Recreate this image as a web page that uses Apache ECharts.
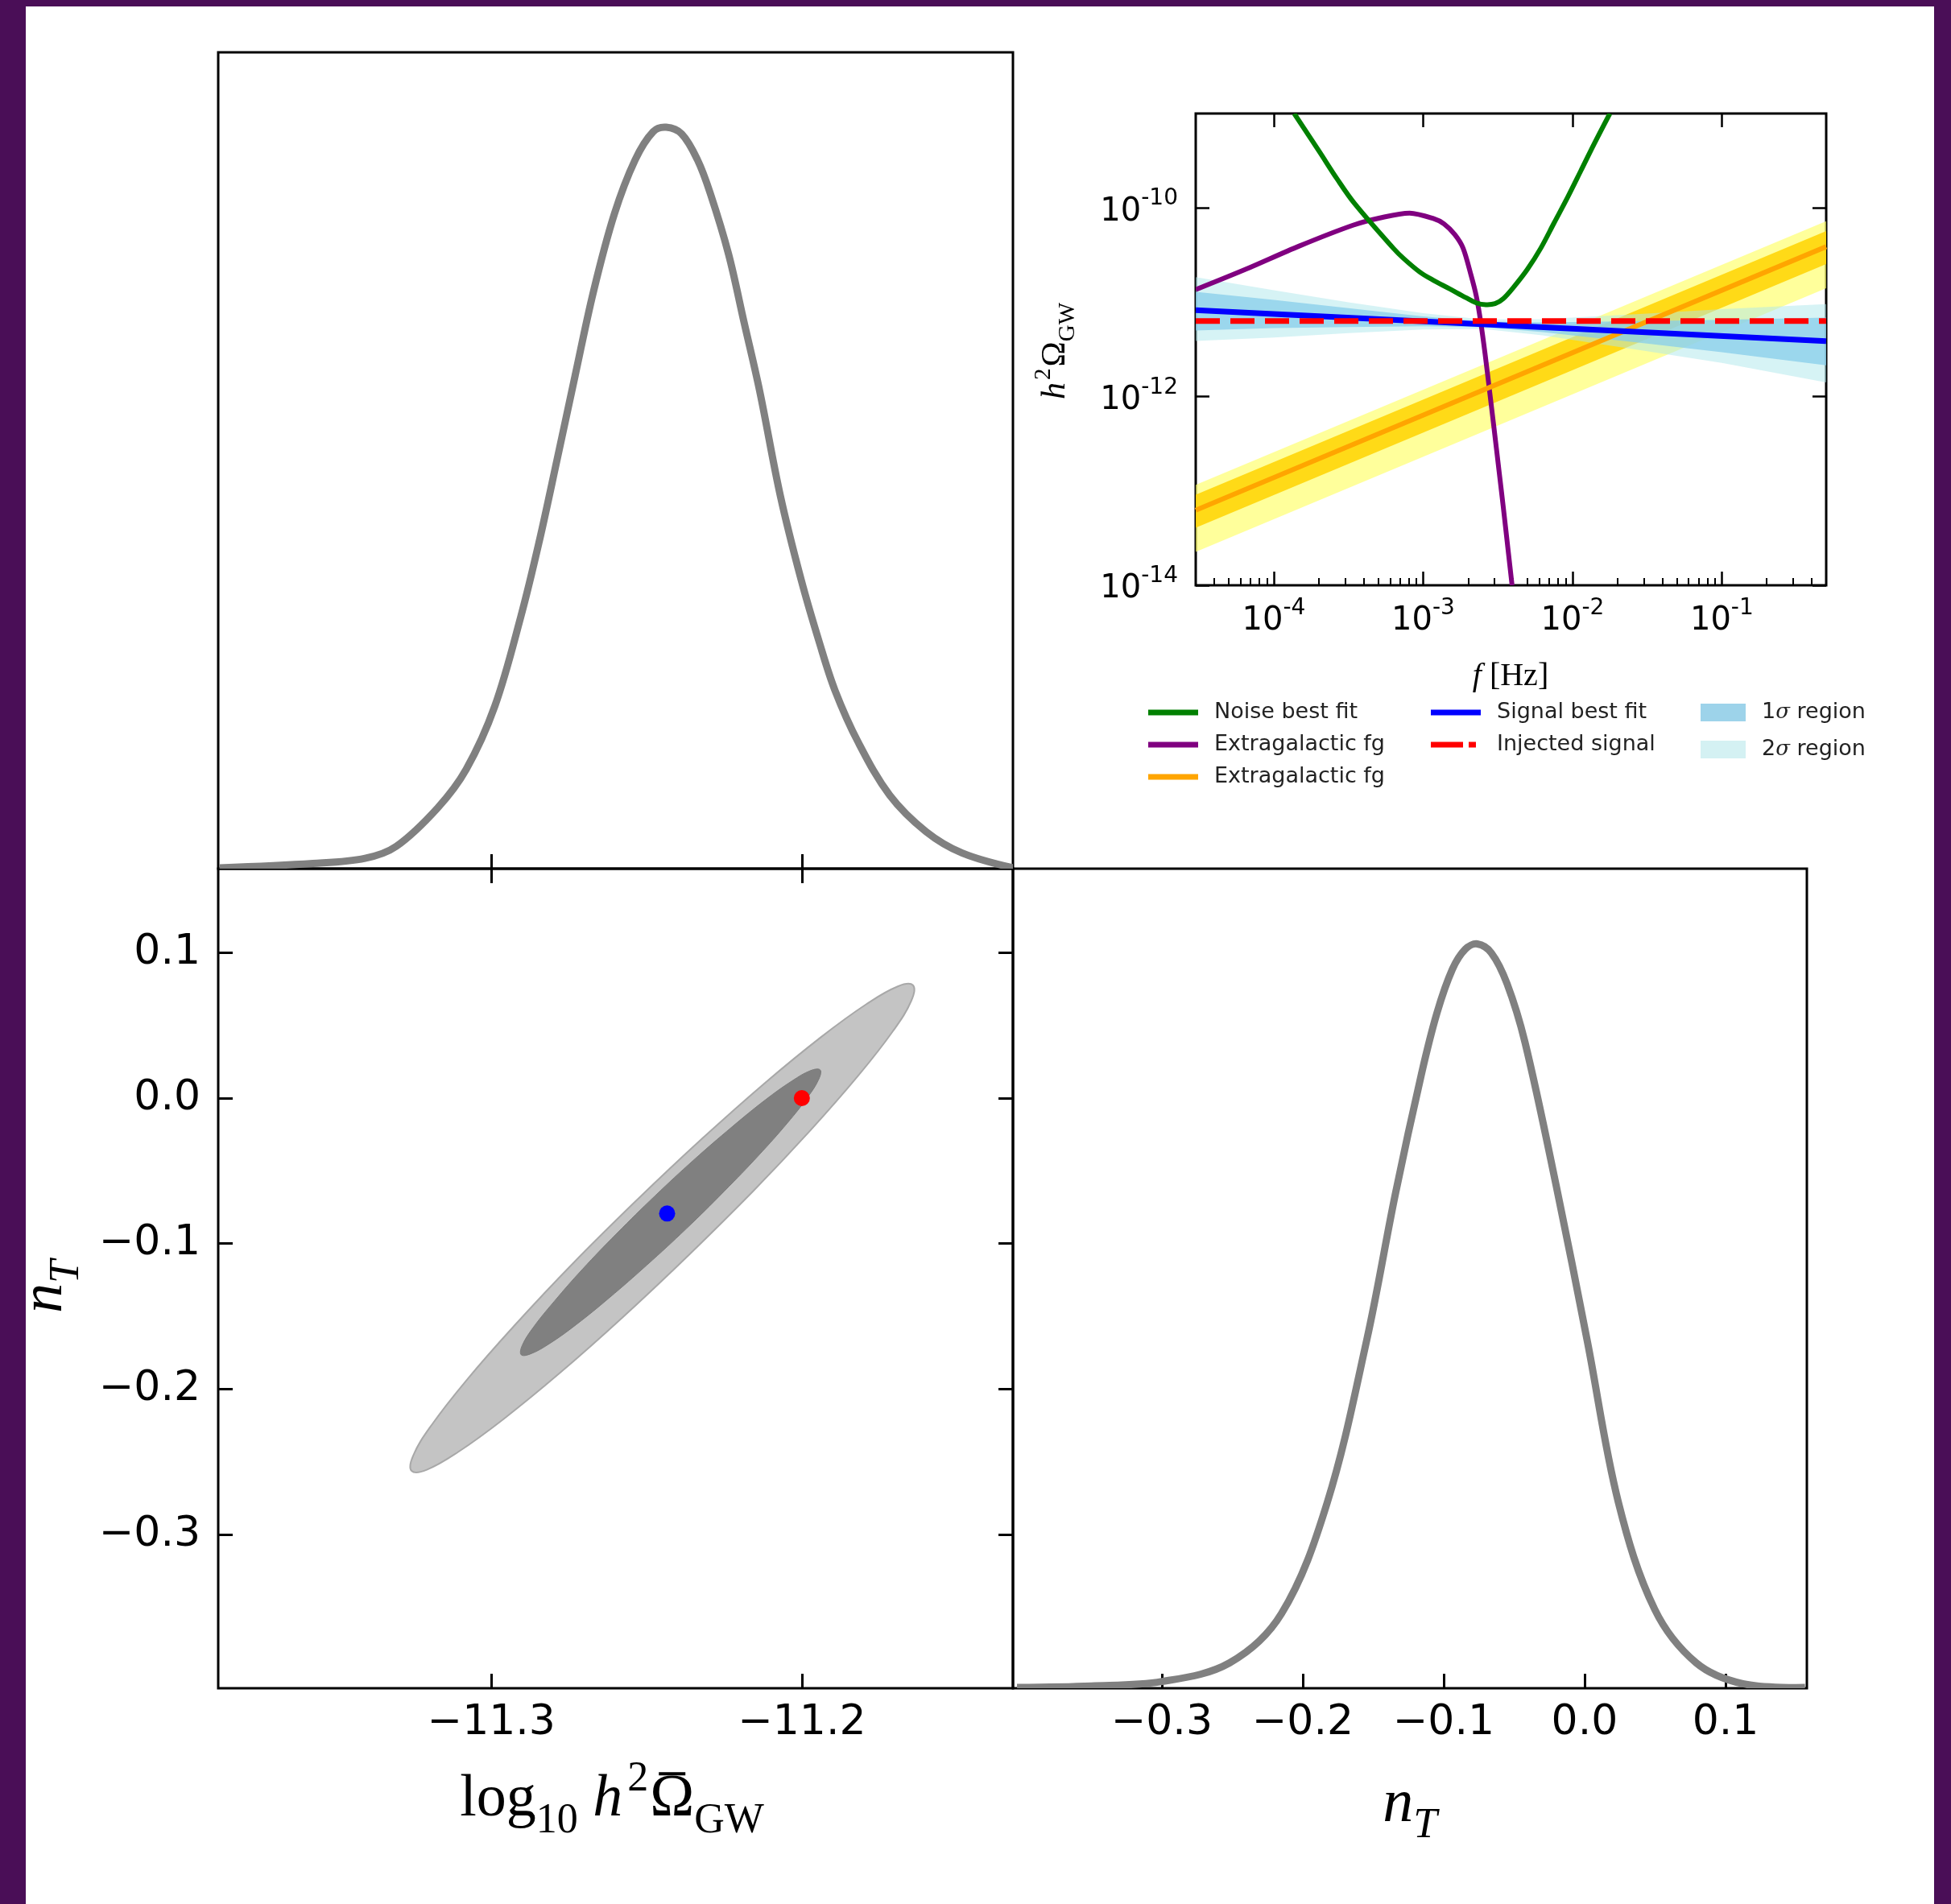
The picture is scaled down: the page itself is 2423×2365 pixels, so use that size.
<!DOCTYPE html>
<html><head><meta charset="utf-8">
<script src="https://cdn.jsdelivr.net/npm/echarts@6/dist/echarts.min.js"></script>
<style>
html,body{margin:0;padding:0;background:#4a0e57;overflow:hidden;}
#paper{position:absolute;left:32px;top:8px;width:2370px;height:2357px;background:#fff;}
#chart{position:absolute;left:0;top:0;width:2423px;height:2365px;}
</style></head><body>
<div id="paper"></div><div id="chart"></div>
<script>
// ================= DATA : corner plot =================
const ampTicks = [-11.3, -11.2];
const ntTicks = [-0.3, -0.2, -0.1, 0.0, 0.1];
const ampRange = [-11.388, -11.132];
const ntRange = [-0.4056, 0.1577];

// 1D marginal of log10 h^2 Omega_GW (top-left)
const ampGrid = [-11.3876, -11.3575, -11.3407, -11.3307, -11.3173, -11.3081, -11.2989, -11.2905, -11.2847, -11.2788, -11.2730, -11.2671, -11.2604, -11.2537, -11.2479, -11.2437, -11.2387, -11.2336, -11.2295, -11.2236, -11.2186, -11.2136, -11.2069, -11.2002, -11.1943, -11.1893, -11.1818, -11.1717, -11.1600, -11.1483, -11.1319];
const ampPdf  = [0.001, 0.007, 0.014, 0.030, 0.082, 0.134, 0.219, 0.340, 0.439, 0.552, 0.665, 0.778, 0.882, 0.955, 0.993, 0.999, 0.990, 0.955, 0.910, 0.828, 0.736, 0.644, 0.502, 0.389, 0.304, 0.240, 0.170, 0.099, 0.050, 0.021, 0.001];

// 1D marginal of n_T (bottom-right)
const ntGrid = [-0.4027, -0.3500, -0.2998, -0.2519, -0.2151, -0.1828, -0.1545, -0.1342, -0.1158, -0.1048, -0.0938, -0.0846, -0.0761, -0.0662, -0.0551, -0.0423, -0.0202, 0.0019, 0.0239, 0.0497, 0.0792, 0.1122, 0.1564];
const ntPdf  = [0.001, 0.003, 0.009, 0.034, 0.100, 0.248, 0.468, 0.664, 0.824, 0.906, 0.965, 0.992, 0.999, 0.987, 0.946, 0.867, 0.675, 0.466, 0.250, 0.106, 0.034, 0.006, 0.001];

// 2D contours (x = log10 h^2 Omega, y = n_T)
const contour2sigma = [[-11.1642,0.0776],[-11.1647,0.0671],[-11.1707,0.0459],[-11.1818,0.0155],[-11.1972,-0.0221],[-11.2158,-0.0642],[-11.2365,-0.1080],[-11.2577,-0.1506],[-11.2780,-0.1890],[-11.2961,-0.2206],[-11.3107,-0.2432],[-11.3208,-0.2554],[-11.3257,-0.2562],[-11.3252,-0.2457],[-11.3192,-0.2245],[-11.3081,-0.1941],[-11.2927,-0.1566],[-11.2741,-0.1144],[-11.2534,-0.0706],[-11.2322,-0.0280],[-11.2119,0.0104],[-11.1938,0.0420],[-11.1792,0.0646],[-11.1691,0.0768]];
const contour1sigma = [[-11.1941,0.0194],[-11.1945,0.0132],[-11.1981,0.0007],[-11.2047,-0.0172],[-11.2139,-0.0393],[-11.2250,-0.0640],[-11.2372,-0.0897],[-11.2499,-0.1147],[-11.2620,-0.1372],[-11.2727,-0.1557],[-11.2814,-0.1689],[-11.2875,-0.1759],[-11.2904,-0.1764],[-11.2901,-0.1701],[-11.2865,-0.1576],[-11.2798,-0.1398],[-11.2707,-0.1177],[-11.2596,-0.0930],[-11.2473,-0.0672],[-11.2347,-0.0423],[-11.2225,-0.0198],[-11.2118,-0.0013],[-11.2031,0.0119],[-11.1971,0.0190]];
const bestFitPoint = [-11.2434, -0.0793];
const injectedPoint = [-11.2, 0.0];

// ================= DATA : inset spectrum =================
const freqRange = [3e-5, 0.5];
const omegaRange = [1e-14, 1e-9];
const freqTicks = [1e-4, 1e-3, 1e-2, 1e-1];
const freqMinorTicks = [4e-5,5e-5,6e-5,7e-5,8e-5,9e-5, 2e-4,3e-4,4e-4,5e-4,6e-4,7e-4,8e-4,9e-4, 2e-3,3e-3,4e-3,5e-3,6e-3,7e-3,8e-3,9e-3, 2e-2,3e-2,4e-2,5e-2,6e-2,7e-2,8e-2,9e-2, 2e-1,3e-1,4e-1];
const omegaTicks = [1e-14, 1e-12, 1e-10];

const noiseF     = [1.37e-4, 2.02e-4, 2.64e-4, 3.46e-4, 6.30e-4, 7.43e-4, 9.53e-4, 1.17e-3, 1.50e-3, 1.93e-3, 2.27e-3, 2.63e-3, 3.03e-3, 3.44e-3, 4.06e-3, 4.99e-3, 6.14e-3, 7.55e-3, 9.29e-3, 1.14e-2, 1.40e-2, 1.78e-2];
const noiseOmega = [1.0e-9, 3.94e-10, 2.05e-10, 1.12e-10, 3.75e-11, 2.89e-11, 2.08e-11, 1.71e-11, 1.39e-11, 1.12e-11, 9.84e-12, 9.42e-12, 9.66e-12, 1.09e-11, 1.46e-11, 2.23e-11, 3.75e-11, 6.98e-11, 1.30e-10, 2.49e-10, 4.80e-10, 1.0e-9];

const fgF     = [3.0e-5, 6.47e-5, 1.48e-4, 3.39e-4, 5.13e-4, 8.13e-4, 1.17e-3, 1.38e-3, 1.63e-3, 1.85e-3, 2.09e-3, 2.27e-3, 2.42e-3, 2.60e-3, 2.79e-3, 2.97e-3, 3.23e-3, 3.44e-3, 3.69e-3, 3.94e-3];
const fgOmega = [1.36e-11, 2.23e-11, 3.94e-11, 6.55e-11, 7.82e-11, 8.81e-11, 7.71e-11, 6.76e-11, 5.21e-11, 3.75e-11, 1.95e-11, 1.16e-11, 6.44e-12, 2.82e-12, 1.12e-12, 4.90e-13, 1.58e-13, 6.76e-14, 2.51e-14, 1.0e-14];

// power-law foreground (orange) at freqRange ends
const fg2Omega = [6.24e-14, 3.88e-11];
const fg2Sig1Lo = [4.07e-14, 2.54e-11];
const fg2Sig1Hi = [9.12e-14, 5.68e-11];
const fg2Sig2Lo = [2.26e-14, 1.41e-11];
const fg2Sig2Hi = [1.16e-13, 7.23e-11];

// signal
const signalOmega = [8.26e-12, 3.86e-12];
const injectedOmega = [6.31e-12, 6.31e-12];
const bandF   = [3e-5, 1e-4, 3.16e-4, 1e-3, 2.5e-3, 6.3e-3, 3.16e-2, 1e-1, 0.5];
const sig1Lo  = [5.01e-12, 5.31e-12, 5.46e-12, 5.57e-12, 5.46e-12, 4.82e-12, 3.64e-12, 2.95e-12, 2.15e-12];
const sig1Hi  = [1.29e-11, 1.06e-11, 8.65e-12, 7.08e-12, 6.27e-12, 6.12e-12, 6.32e-12, 6.52e-12, 6.87e-12];
const sig2Lo  = [3.89e-12, 4.23e-12, 4.70e-12, 5.15e-12, 5.21e-12, 4.46e-12, 3.03e-12, 2.28e-12, 1.41e-12];
const sig2Hi  = [1.84e-11, 1.34e-11, 1.00e-11, 7.66e-12, 6.56e-12, 6.62e-12, 7.59e-12, 8.43e-12, 9.55e-12];

// ================= BUILD =================
const lg = Math.log10;
const zip = (xs, ys) => xs.map((x, i) => [x, ys[i]]);
const zipLog = (xs, ys) => xs.map((x, i) => [lg(x), lg(ys[i])]);
const minus = s => s.replace('-', '\u2212');
const fmt1 = v => Math.abs(v) < 1e-9 ? '0.0' : minus(v.toFixed(1));

const SANS = 'DejaVu Sans';
const SERIF = 'Liberation Serif';

function mathRich(S) {
  const L = Math.round(S * 1.4);
  const base = {fontFamily: SERIF, color: '#000'};
  return {
    r: Object.assign({}, base, {fontSize: S, lineHeight: L}),
    i: Object.assign({}, base, {fontSize: S, lineHeight: L, fontStyle: 'italic'}),
    sub: Object.assign({}, base, {fontSize: Math.round(S * 0.7), lineHeight: Math.round(S * 0.79), verticalAlign: 'bottom'}),
    isub: Object.assign({}, base, {fontSize: Math.round(S * 0.7), lineHeight: Math.round(S * 0.79), verticalAlign: 'bottom', fontStyle: 'italic'}),
    sup: Object.assign({}, base, {fontSize: Math.round(S * 0.7), lineHeight: Math.round(S * 0.81), verticalAlign: 'top', padding: [0, 2, 0, Math.round(S * 0.08)]})
  };
}

const tickStyle = {color: '#000', width: 3};
function tickAxis(gridIndex, position, range, ticks, opts) {
  opts = opts || {};
  return Object.assign({
    type: 'value', gridIndex, position, min: range[0], max: range[1],
    axisLine: {show: false, onZero: false},
    splitLine: {show: false},
    axisTick: {show: true, inside: true, length: opts.len || 18, lineStyle: Object.assign({}, tickStyle, opts.tickLine || {}), customValues: ticks},
    axisLabel: opts.label ? Object.assign({show: true, customValues: ticks}, opts.label) : {show: false}
  }, opts.extra || {});
}

const mainLabel = {fontFamily: SANS, fontSize: 52, color: '#000', lineHeight: 60};
const insetLabelRich = {
  b: {fontFamily: SANS, fontSize: 40, lineHeight: 50, verticalAlign: 'bottom', color: '#000'},
  s: {fontFamily: SANS, fontSize: 28, lineHeight: 24, verticalAlign: 'top', color: '#000'}
};
const powLabel = v => '{b|10}{s|' + Math.round(v) + '}';

const insetX = freqRange.map(lg), insetY = omegaRange.map(lg);

const xAxis = [
  tickAxis(0, 'bottom', ampRange, ampTicks),
  tickAxis(1, 'bottom', ampRange, ampTicks, {label: Object.assign({margin: 13, formatter: fmt1}, mainLabel)}),
  tickAxis(1, 'top', ampRange, ampTicks),
  tickAxis(2, 'bottom', ntRange, ntTicks, {label: Object.assign({margin: 13, formatter: fmt1}, mainLabel)}),
  tickAxis(3, 'bottom', insetX, freqTicks.map(lg), {len: 17, tickLine: {width: 2.5}, label: {margin: 15, formatter: powLabel, rich: insetLabelRich}}),
  tickAxis(3, 'bottom', insetX, freqMinorTicks.map(lg), {len: 9, tickLine: {width: 2}}),
  tickAxis(3, 'top', insetX, freqTicks.map(lg), {len: 17, tickLine: {width: 2.5}})
];
const yAxis = [
  {type: 'value', gridIndex: 0, min: 0, max: 1.1, show: false},
  tickAxis(1, 'left', ntRange, ntTicks, {label: Object.assign({margin: 22, formatter: fmt1, padding: [6, 0, 0, 0]}, mainLabel)}),
  tickAxis(1, 'right', ntRange, ntTicks),
  {type: 'value', gridIndex: 2, min: 0, max: 1.1, show: false},
  tickAxis(3, 'left', insetY, omegaTicks.map(lg), {len: 17, tickLine: {width: 2.5}, label: {margin: 22, formatter: powLabel, rich: insetLabelRich}}),
  tickAxis(3, 'right', insetY, omegaTicks.map(lg), {len: 17, tickLine: {width: 2.5}})
];

const gridBase = {show: true, borderColor: '#000', borderWidth: 3, backgroundColor: 'transparent', containLabel: false, outerBoundsMode: 'none'};
const grid = [
  Object.assign({left: 271, top: 65, width: 987, height: 1014}, gridBase),
  Object.assign({left: 271, top: 1079, width: 987, height: 1018}, gridBase),
  Object.assign({left: 1258, top: 1079, width: 986, height: 1018}, gridBase),
  Object.assign({left: 1485, top: 141, width: 783, height: 586}, gridBase)
];

function polygonSeries(name, pts, xi, yi, style, smooth, legendColor) {
  return {
    type: 'custom', name, xAxisIndex: xi, yAxisIndex: yi, data: pts, silent: true,
    itemStyle: {color: legendColor || style.fill},
    renderItem: (params, api) => {
      if (params.dataIndex !== 0) return null;
      return {type: 'polygon', shape: {points: pts.map(p => api.coord(p)), smooth: smooth || 0}, style: style};
    }
  };
}
// smooth curve through read-off points, positioned by the axes (api.coord)
function curveSeries(name, pts, xi, yi, color, width, smooth) {
  return {
    type: 'custom', name, xAxisIndex: xi, yAxisIndex: yi, data: pts, silent: true, clip: true,
    itemStyle: {color},
    renderItem: (params, api) => {
      if (params.dataIndex !== 0) return null;
      return {type: 'polyline', shape: {points: pts.map(p => api.coord(p)), smooth: smooth},
        style: {stroke: color, lineWidth: width, fill: null, lineJoin: 'round'}};
    }
  };
}
function bandPts(xs, lo, hi) {
  return zipLog(xs, hi).concat(zipLog(xs, lo).reverse());
}
function line(name, data, xi, yi, color, width, extra) {
  return Object.assign({
    type: 'line', name, data, xAxisIndex: xi, yAxisIndex: yi, symbol: 'none', showSymbol: false,
    lineStyle: {color, width}, itemStyle: {color}, silent: true, clip: true
  }, extra || {});
}

const series = [
  curveSeries('ampPdf', zip(ampGrid, ampPdf), 0, 0, '#808080', 9, 0.35),
  polygonSeries('2d2', contour2sigma, 1, 1, {fill: '#c4c4c4', stroke: '#a8a8a8', lineWidth: 2}, 0.4),
  polygonSeries('2d1', contour1sigma, 1, 1, {fill: '#808080', stroke: '#7a7a7a', lineWidth: 1}, 0.4),
  {type: 'scatter', name: 'bestfit', xAxisIndex: 1, yAxisIndex: 1, data: [bestFitPoint], symbolSize: 20, itemStyle: {color: '#0000ff', opacity: 1}, silent: true},
  {type: 'scatter', name: 'injected', xAxisIndex: 1, yAxisIndex: 1, data: [injectedPoint], symbolSize: 20, itemStyle: {color: '#ff0000', opacity: 1}, silent: true},
  curveSeries('ntPdf', zip(ntGrid, ntPdf), 3, 3, '#808080', 9, 0.35),
  polygonSeries('fg2 2sigma', bandPts(freqRange, fg2Sig2Lo, fg2Sig2Hi), 4, 4, {fill: 'rgba(255,255,102,0.65)'}),
  polygonSeries('fg2 1sigma', bandPts(freqRange, fg2Sig1Lo, fg2Sig1Hi), 4, 4, {fill: 'rgba(255,212,0,0.85)'}),
  line('Extragalactic fg (2)', zipLog(freqRange, fg2Omega), 4, 4, '#ffa500', 6),
  polygonSeries('2σ region', bandPts(bandF, sig2Lo, sig2Hi), 4, 4, {fill: 'rgba(174,232,236,0.5)'}, 0, '#d4f1f3'),
  polygonSeries('1σ region', bandPts(bandF, sig1Lo, sig1Hi), 4, 4, {fill: 'rgba(135,206,235,0.75)'}, 0, '#9dd3ea'),
  line('Signal best fit', zipLog(freqRange, signalOmega), 4, 4, '#0000ff', 7),
  line('Injected signal', zipLog(freqRange, injectedOmega), 4, 4, '#ff0000', 7, {lineStyle: {color: '#ff0000', width: 7, type: [30, 13]}}),
  curveSeries('Extragalactic fg (1)', zipLog(fgF, fgOmega), 4, 4, '#800080', 6, 0.3),
  curveSeries('Noise best fit', zipLog(noiseF, noiseOmega), 4, 4, '#008000', 6, 0.35)
];

const legendText = {fontFamily: SANS, fontSize: 27, color: '#222', lineHeight: 32, padding: [0, 0, 0, 15],
  rich: {n: {fontFamily: SANS, fontSize: 27, color: '#222'}, g: {fontFamily: 'DejaVu Serif', fontStyle: 'italic', fontSize: 26, color: '#222'}}};
const legendBase = {orient: 'vertical', top: 869, padding: 0, selectedMode: false, itemWidth: 62, itemHeight: 7, itemGap: 8, symbolKeepAspect: false, textStyle: legendText};
const dashIcon = 'path://M0 0h40v10h-40z M47 0h9v10h-9z M62 0h0.01v0.01h-0.01z';
const legend = [
  Object.assign({}, legendBase, {left: 1426, data: [{name: 'Noise best fit', icon: 'rect'}, {name: 'Extragalactic fg (1)', icon: 'rect'}, {name: 'Extragalactic fg (2)', icon: 'rect'}],
    formatter: n => n.replace(/ \(\d\)$/, '')}),
  Object.assign({}, legendBase, {left: 1777, data: [{name: 'Signal best fit', icon: 'rect'}, {name: 'Injected signal', icon: dashIcon}]}),
  Object.assign({}, legendBase, {left: 2112, itemWidth: 56, itemHeight: 22, itemGap: 14, data: [{name: '1σ region', icon: 'rect'}, {name: '2σ region', icon: 'rect'}],
    formatter: n => '{n|' + n.charAt(0) + '}{g|σ}{n|' + n.slice(2) + '}'})
];

// ----- axis titles (math text) -----
const mctx = document.createElement('canvas').getContext('2d');
function tw(t, size, italic) { mctx.font = (italic ? 'italic ' : '') + size + 'px ' + SERIF; return mctx.measureText(t).width; }
const TS = 74, TSS = Math.round(TS * 0.7), TCX = 760, TCY = 2236;
const wBefore = tw('log', TS) + tw('10', TSS) + tw(' ', TS) + tw('h', TS, true) + tw('2', TSS) + 2 + Math.round(TS * 0.08);
const wOmega = tw('Ω', TS);
const wTitle = wBefore + wOmega + tw('GW', TSS);
const titleX0 = TCX - wTitle / 2;

const graphic = [
  {type: 'text', x: titleX0, y: TCY, style: {text: '{r|log}{sub|10}{r| }{i|h}{sup|2}{r|Ω}{sub|GW}', rich: mathRich(TS), align: 'left', verticalAlign: 'middle'}},
  {type: 'rect', shape: {x: titleX0 + wBefore + wOmega * 0.2, y: TCY - TS * 0.47, width: wOmega * 0.6, height: 4}, style: {fill: '#000'}},
  {type: 'text', x: 1751, y: 2242, style: {text: '{i|n}{isub|T}', rich: mathRich(76), align: 'center', verticalAlign: 'middle'}},
  {type: 'text', x: 57, y: 1598, rotation: Math.PI / 2, style: {text: '{i|n}{isub|T}', rich: mathRich(74), align: 'center', verticalAlign: 'middle'}},
  {type: 'text', x: 1876, y: 840, style: {text: '{i|f}{r| [Hz]}', rich: mathRich(40), align: 'center', verticalAlign: 'middle'}},
  {type: 'text', x: 1311, y: 436, rotation: Math.PI / 2, style: {text: '{i|h}{sup|2}{r|Ω}{sub|GW}', rich: mathRich(42), align: 'center', verticalAlign: 'middle'}}
];

const chart = echarts.init(document.getElementById('chart'), null, {renderer: 'canvas', width: 2423, height: 2365});
chart.setOption({
  animation: false,
  backgroundColor: 'transparent',
  textStyle: {fontFamily: SANS},
  grid, xAxis, yAxis, series, legend, graphic
});
</script>
</body></html>
